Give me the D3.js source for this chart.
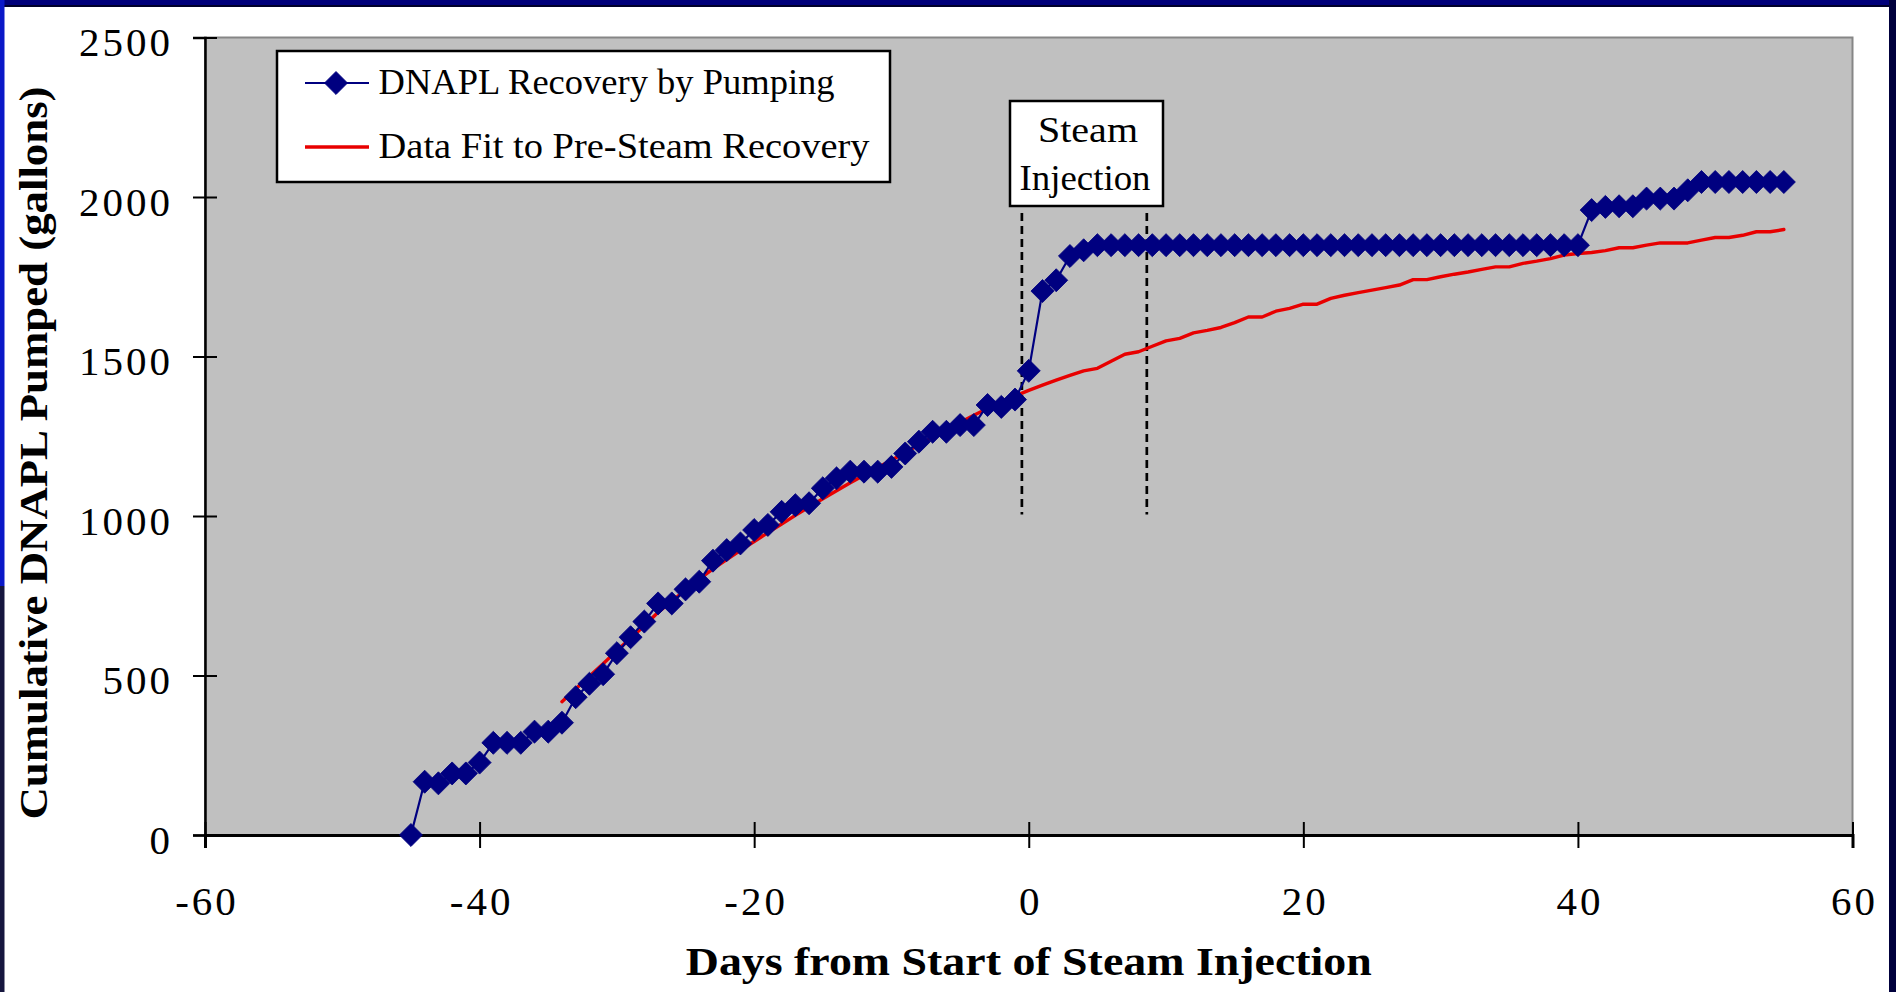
<!DOCTYPE html>
<html><head><meta charset="utf-8">
<script src="https://cdn.jsdelivr.net/npm/d3@7"></script>
<style>
html,body{margin:0;padding:0;background:#fff;overflow:hidden}
svg{display:block}
text{font-family:"Liberation Serif","Times New Roman",serif;fill:#000}
</style></head><body>
<svg id="chart" width="1896" height="992"></svg>
<script>
// Cumulative DNAPL pumped, one reading per day (days relative to start of steam injection)
const pumpDays = [-45,-44,-43,-42,-41,-40,-39,-38,-37,-36,-35,-34,-33,-32,-31,-30,-29,-28,-27,-26,
  -25,-24,-23,-22,-21,-20,-19,-18,-17,-16,-15,-14,-13,-12,-11,-10,-9,-8,-7,-6,-5,-4,-3,-2,-1,
  0,1,2,3,4,5,6,7,8,9,10,11,12,13,14,15,16,17,18,19,20,21,22,23,24,25,26,27,28,29,30,
  31,32,33,34,35,36,37,38,39,40,41,42,43,44,45,46,47,48,49,50,51,52,53,54,55];
const pumpGallons = [0,167,162,193,193,227,289,289,289,324,324,352,432,474,504,570,620,669,726,726,
  770,794,860,893,914,956,972,1013,1034,1040,1087,1118,1139,1139,1139,1154,1196,1233,1264,1264,1285,1285,1348,1342,1365,
  1455,1705,1739,1815,1833,1849,1849,1849,1849,1849,1849,1849,1849,1849,1849,1849,1849,1849,1849,1849,1849,1849,1849,1849,1849,1849,1849,1849,1849,1849,1849,
  1849,1849,1849,1849,1849,1849,1849,1849,1849,1849,1959,1969,1971,1971,1995,1995,1995,2021,2047,2047,2047,2047,2047,2047,2047];

// Curve fitted to the pre-steam recovery, extended through the steam period
const fitDays = [-34,-33,-32,-31,-30,-29,-28,-27,-26,-25,-24,-23,-22,-21,-20,-19,-18,-17,-16,-15,
  -14,-13,-12,-11,-10,-9,-8,-7,-6,-5,-4,-3,-2,-1,0,1,2,3,4,5,6,7,8,9,10,11,12,13,14,15,
  16,17,18,19,20,21,22,23,24,25,26,27,28,29,30,31,32,33,34,35,36,37,38,39,40,41,42,43,44,45,
  46,47,48,49,50,51,52,53,54,55];
const fitGallons = [418,458,498,537,578,617,656,698,733,768,802,834,863,892,920,948,975,1002,1028,1054,
  1079,1104,1128,1152,1175,1199,1223,1247,1270,1293,1316,1337,1357,1376,1394,1410,1426,1441,1455,1463,
  1485,1507,1515,1532,1549,1557,1574,1582,1591,1606,1624,1624,1642,1651,1664,1664,1682,1692,1700,1708,
  1716,1724,1741,1741,1750,1758,1765,1773,1781,1781,1792,1799,1807,1818,1823,1826,1832,1841,1841,1849,
  1856,1856,1856,1865,1873,1873,1880,1891,1891,1898];

const xTicks = [-60,-40,-20,0,20,40,60];
const yTicks = [0,500,1000,1500,2000,2500];
const steamMarkDays = [-0.5, 8.6];
const steamMarkSpan = [1005, 1950];
const seriesNames = ["DNAPL Recovery by Pumping", "Data Fit to Pre-Steam Recovery"];

const W = 1896, H = 992;
const plot = {left: 205, right: 1852.5, top: 37.5, bottom: 835};
const NAVY = "#000080", RED = "#e80000";

const svg = d3.select("#chart");

// page frame
svg.append("rect").attr("width", W).attr("height", H).attr("fill", "#fff");
svg.append("rect").attr("x", 0).attr("y", 0).attr("width", W).attr("height", 7).attr("fill", "#00007a");
svg.append("rect").attr("x", 0).attr("y", 5).attr("width", W).attr("height", 2).attr("fill", "#00002a");
svg.append("rect").attr("x", 0).attr("y", 0).attr("width", 4.5).attr("height", 586).attr("fill", "#0a18c8");
svg.append("rect").attr("x", 0).attr("y", 586).attr("width", 4.5).attr("height", H - 586).attr("fill", "#16163e");
svg.append("rect").attr("x", 1889).attr("y", 0).attr("width", 7).attr("height", H).attr("fill", "#00003c");

const x = d3.scaleLinear().domain([-60, 60]).range([plot.left, plot.right]);
const y = d3.scaleLinear().domain([0, 2500]).range([plot.bottom, plot.top]);

// plot area
svg.append("rect")
  .attr("x", plot.left).attr("y", plot.top)
  .attr("width", plot.right - plot.left).attr("height", plot.bottom - plot.top)
  .attr("fill", "#c0c0c0").attr("stroke", "#868686").attr("stroke-width", 2);

// axes
const gx = svg.append("g").attr("transform", `translate(0,${plot.bottom})`)
  .call(d3.axisBottom(x).tickValues(xTicks).tickSizeOuter(0).tickSize(13).tickFormat(d => String(d)));
gx.select(".domain").attr("stroke", "#000").attr("stroke-width", 3);
gx.selectAll(".tick line").attr("y1", -13).attr("y2", 13).attr("stroke", "#000").attr("stroke-width", 2);
gx.selectAll(".tick text")
  .attr("y", 80).attr("dy", null).attr("dx", 1.5)
  .style("font-family", "'Liberation Serif', serif").style("font-size", "41px")
  .style("letter-spacing", "3px").attr("fill", "#000");

const gy = svg.append("g").attr("transform", `translate(${plot.left},0)`)
  .call(d3.axisLeft(y).tickValues(yTicks).tickSizeOuter(0).tickSize(12).tickFormat(d => String(d)));
gy.select(".domain").attr("stroke", "#000").attr("stroke-width", 2.5);
gy.selectAll(".tick line").attr("x1", -12).attr("x2", 12).attr("stroke", "#000").attr("stroke-width", 2);
gy.selectAll(".tick text")
  .attr("x", -32).attr("y", 18).attr("dy", null)
  .style("font-family", "'Liberation Serif', serif").style("font-size", "41px")
  .style("letter-spacing", "3px").attr("fill", "#000");

// axis titles
svg.append("text")
  .attr("x", (plot.left + plot.right) / 2).attr("y", 975)
  .attr("text-anchor", "middle")
  .attr("textLength", 686).attr("lengthAdjust", "spacingAndGlyphs")
  .style("font-size", "41px").style("font-weight", "bold")
  .text("Days from Start of Steam Injection");
svg.append("text")
  .attr("transform", "translate(47,453) rotate(-90)")
  .attr("text-anchor", "middle")
  .attr("textLength", 733).attr("lengthAdjust", "spacingAndGlyphs")
  .style("font-size", "41px").style("font-weight", "bold")
  .text("Cumulative DNAPL Pumped (gallons)");

// steam injection markers
svg.append("g").selectAll("line").data(steamMarkDays).join("line")
  .attr("x1", d => x(d)).attr("x2", d => x(d))
  .attr("y1", y(steamMarkSpan[1])).attr("y2", y(steamMarkSpan[0]))
  .attr("stroke", "#000").attr("stroke-width", 2.7).attr("stroke-dasharray", "8,5");

// series
const pumped = pumpDays.map((d, i) => ({day: d, gal: pumpGallons[i]}));
const fitted = fitDays.map((d, i) => ({day: d, gal: fitGallons[i]}));
const line = d3.line().x(d => x(d.day)).y(d => y(d.gal));

svg.append("path").datum(fitted)
  .attr("d", line).attr("fill", "none")
  .attr("stroke", RED).attr("stroke-width", 3.4).attr("stroke-linejoin", "round").attr("stroke-linecap", "round");

svg.append("path").datum(pumped)
  .attr("d", line).attr("fill", "none")
  .attr("stroke", NAVY).attr("stroke-width", 2.2).attr("stroke-linejoin", "round");

const diamond = d3.symbol().type(d3.symbolSquare).size(265);
svg.append("g").selectAll("path").data(pumped).join("path")
  .attr("d", diamond)
  .attr("transform", d => `translate(${x(d.day)},${y(d.gal)}) rotate(45)`)
  .attr("fill", NAVY).attr("stroke", NAVY).attr("stroke-width", 0.8).attr("stroke-linejoin", "round");

// steam injection label
const sb = svg.append("g");
sb.append("rect").attr("x", 1010).attr("y", 101).attr("width", 153).attr("height", 105)
  .attr("fill", "#fff").attr("stroke", "#000").attr("stroke-width", 2.5);
sb.append("text").attr("x", 1088).attr("y", 142).attr("text-anchor", "middle")
  .attr("textLength", 100).attr("lengthAdjust", "spacingAndGlyphs")
  .style("font-size", "35px").text("Steam");
sb.append("text").attr("x", 1085).attr("y", 190).attr("text-anchor", "middle")
  .attr("textLength", 131).attr("lengthAdjust", "spacingAndGlyphs")
  .style("font-size", "35px").text("Injection");

// legend
const lg = svg.append("g");
lg.append("rect").attr("x", 277).attr("y", 51).attr("width", 613).attr("height", 131)
  .attr("fill", "#fff").attr("stroke", "#000").attr("stroke-width", 2.5);
lg.append("line").attr("x1", 305).attr("x2", 369).attr("y1", 83).attr("y2", 83)
  .attr("stroke", NAVY).attr("stroke-width", 2.2);
lg.append("path").attr("d", diamond).attr("transform", "translate(336,83) rotate(45)")
  .attr("fill", NAVY).attr("stroke", NAVY).attr("stroke-width", 0.8);
lg.append("text").attr("x", 378.6).attr("y", 94)
  .attr("textLength", 456).attr("lengthAdjust", "spacingAndGlyphs")
  .style("font-size", "35px").text(seriesNames[0]);
lg.append("line").attr("x1", 305).attr("x2", 369).attr("y1", 147).attr("y2", 147)
  .attr("stroke", RED).attr("stroke-width", 3.4);
lg.append("text").attr("x", 378.6).attr("y", 158)
  .attr("textLength", 491).attr("lengthAdjust", "spacingAndGlyphs")
  .style("font-size", "35px").text(seriesNames[1]);
</script>
</body></html>
